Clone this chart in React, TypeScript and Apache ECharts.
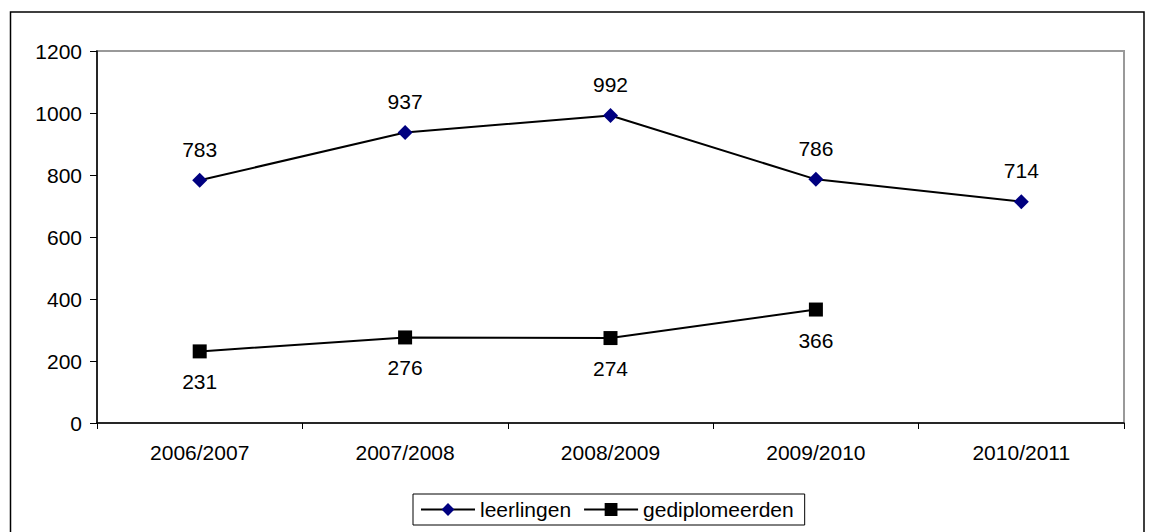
import React, { useEffect, useRef } from "react";
import * as echarts from "echarts";

const categories = ["2006/2007", "2007/2008", "2008/2009", "2009/2010", "2010/2011"];
const leerlingen = [783, 937, 992, 786, 714];
const gediplomeerden: (number | null)[] = [231, 276, 274, 366, null];
const yTicks = [0, 200, 400, 600, 800, 1000, 1200];

export default function App() {
  const ref = useRef<HTMLDivElement>(null);
  useEffect(() => {
    document.body.style.margin = "0";
    const chart = echarts.init(ref.current!, null, { renderer: "svg" });
    const font = "Liberation Sans, Arial, sans-serif";
    chart.setOption({
      animation: false,
      backgroundColor: "#ffffff",
      textStyle: { fontFamily: font },
      graphic: [
        {
          type: "rect",
          shape: { x: 10.5, y: 12, width: 1133.5, height: 530 },
          style: { fill: "none", stroke: "#000", lineWidth: 1.5 },
          silent: true,
        },
      ],
      grid: { left: 97, top: 51, right: 25, bottom: 109, show: true, borderColor: "#999", borderWidth: 2, backgroundColor: "transparent" },
      legend: {
        top: 494,
        left: 413,
        data: ["leerlingen", "gediplomeerden"],
        itemWidth: 54,
        itemHeight: 16,
        itemGap: 12,
        padding: [5, 11, 5, 7],
        borderColor: "#000",
        borderWidth: 1,
        borderRadius: 0,
        textStyle: { fontSize: 21, color: "#000", fontFamily: font },
      },
      xAxis: {
        type: "category",
        data: categories,
        boundaryGap: true,
        axisLine: { lineStyle: { color: "#000", width: 1.5 } },
        axisTick: { show: true, length: 6, lineStyle: { color: "#000" } },
        axisLabel: { fontSize: 21, color: "#000", margin: 19, fontFamily: font },
        splitLine: { show: false },
      },
      yAxis: {
        type: "value",
        min: yTicks[0],
        max: yTicks[yTicks.length - 1],
        interval: 200,
        axisLine: { show: true, lineStyle: { color: "#000", width: 1.5 } },
        axisTick: { show: true, length: 7, lineStyle: { color: "#000" } },
        axisLabel: { fontSize: 21, color: "#000", margin: 15, fontFamily: font, formatter: (v: number) => String(v) },
        splitLine: { show: false },
      },
      series: [
        {
          name: "leerlingen",
          type: "line",
          data: leerlingen,
          symbol: "diamond",
          symbolSize: 15,
          itemStyle: { color: "#000080" },
          lineStyle: { color: "#000", width: 2 },
          label: { show: true, position: "top", distance: 13, fontSize: 21, color: "#000", fontFamily: font },
        },
        {
          name: "gediplomeerden",
          type: "line",
          data: gediplomeerden,
          symbol: "rect",
          symbolSize: 14,
          itemStyle: { color: "#000" },
          lineStyle: { color: "#000", width: 2 },
          label: { show: true, position: "bottom", distance: 13, fontSize: 21, color: "#000", fontFamily: font },
        },
      ],
    });
    return () => chart.dispose();
  }, []);
  return <div ref={ref} style={{ width: 1149, height: 532 }} />;
}
